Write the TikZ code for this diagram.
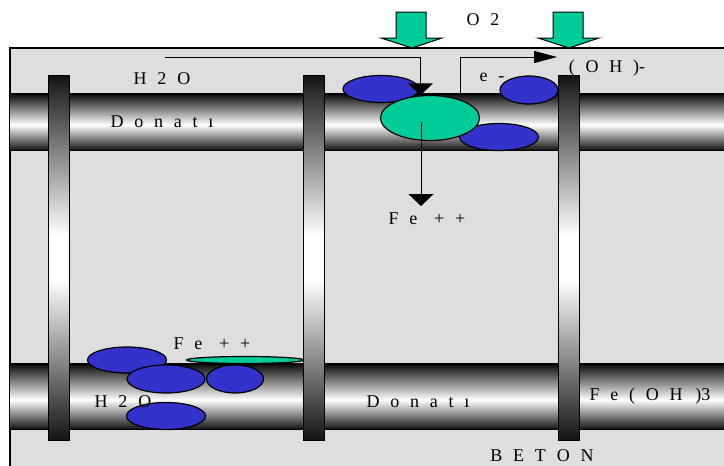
\documentclass[tikz,border=0pt]{standalone}
\usepackage{fontspec}
\setmainfont[WordSpace=2.4]{Liberation Serif}
\usepackage{tikz}
\usetikzlibrary{shapes, arrows.meta, positioning}

\definecolor{anodegreen}{RGB}{0,204,153}
\definecolor{rustblue}{RGB}{51,51,204}
\definecolor{betongray}{RGB}{222,222,222}

\begin{document}
\begin{tikzpicture}[x=1pt, y=-1pt, font=\fontsize{18}{20}\selectfont]

\tikzstyle{lbl} = [inner sep=0pt, text=black]
\tikzstyle{concrete} = [draw=black, line width=1.2pt, fill=betongray]
\tikzstyle{rebar} = [rectangle, anchor=north west, inner sep=0pt, minimum width=730pt]
\tikzstyle{stirrup} = [rectangle, anchor=north west, inner sep=0pt, draw=black, line width=1.2pt, minimum width=21pt, minimum height=365pt]
\tikzstyle{blob} = [ellipse, draw=black, line width=1.2pt, fill=rustblue, inner sep=0pt]
\tikzstyle{anode} = [ellipse, draw=black, line width=1.2pt, fill=anodegreen, inner sep=0pt]
\tikzstyle{feed} = [line width=1pt, -{Triangle[width=25pt, length=12pt]}]
\tikzstyle{earrow} = [line width=1pt, -{Triangle[width=12pt, length=23pt]}]
\tikzstyle{o2arrow} = [draw=black, line width=1pt, fill=anodegreen]

\useasboundingbox (0,0) rectangle (724,466);

% concrete block
\draw[concrete] (10,48) rectangle (740,480);

% bars, shaded strip by strip
\foreach \top/\h in {94/56, 364/65} {
  \foreach \i in {0,...,\numexpr\h-1\relax} {
    \pgfmathsetmacro\p{\i/\h}
    \pgfmathsetmacro\d{ifthenelse(\p<0.55, 95*(1-\p/0.55), 92*(\p-0.55)/0.45)}
    \fill[black!\d] (10,\top+\i) rectangle (740,\top+\i+1.3);
  }
}
\node (bartop)[rebar, minimum height=56pt] at (10,94) {};
\node (barlow)[rebar, minimum height=65pt] at (10,364) {};
\draw[line width=1.5pt] (bartop.north west) -- (bartop.north east) (bartop.south west) -- (bartop.south east);
\draw[line width=1.5pt] (barlow.north west) -- (barlow.north east) (barlow.south west) -- (barlow.south east);

% stirrups
\foreach \x/\n in {48/1, 303/2, 558/3} {
  \foreach \i in {0,...,182} {
    \pgfmathsetmacro\d{92*max(0, abs(1-\i/91)-0.12)/0.88}
    \fill[black!\d] (\x,75+2*\i) rectangle (\x+21,77.3+2*\i);
  }
  \node (stir\n)[stirrup] at (\x,75) {};
}

% upper corrosion cell
\node (rust1)[blob, minimum width=76pt, minimum height=27pt] at (381,89) {};
\node (rust2)[blob, minimum width=58pt, minimum height=28pt] at (529,90) {};
\node (rust3)[blob, minimum width=79pt, minimum height=27pt] at (499,137) {};
\node (anode)[anode, minimum width=99pt, minimum height=45pt] at (430,118) {};

% lower corrosion cell
\node (rust4)[blob, minimum width=79pt, minimum height=26pt] at (127,360) {};
\node (rust5)[blob, minimum width=78pt, minimum height=28pt] at (166,379) {};
\node (rust6)[blob, minimum width=57pt, minimum height=28pt] at (235,379) {};
\node (rust7)[blob, minimum width=79pt, minimum height=27pt] at (166,416) {};
\node (film)[anode, minimum width=117pt, minimum height=7pt] at (245,360) {};

% oxygen
\draw[o2arrow] (396,12) -- (426,12) -- (426,38) -- (442,38) -- (412,48) -- (381,38) -- (396,38) -- cycle;
\draw[o2arrow] (553,12) -- (583,12) -- (583,38) -- (599,38) -- (569,48) -- (538,38) -- (553,38) -- cycle;
\node (o2)[lbl] at (483,20) {O 2};

% labels
\node (h2otop)[lbl] at (162,79) {H 2 O};
\node (donatitop)[lbl] at (162,122) {D o n a t ı};
\node (elec)[lbl] at (492,77) {e -};
\node (oh)[lbl] at (607,68) {( O H )-};
\node (feup)[lbl] at (427,219) {F e\hspace{6pt} + +};
\node (felow)[lbl] at (212,344) {F e\hspace{6pt} + +};
\node (h2olow)[lbl] at (123,402) {H 2 O};
\node (donatilow)[lbl] at (418,402) {D o n a t ı};
\node (feoh)[lbl] at (650,396) {F e ( O H\hspace{2pt} )3};
\node (beton)[lbl] at (542,456) {B E T O N};

% arrows
\coordinate (h2oline) at (165,57);
\coordinate (estart) at (460,94);
\coordinate (etip) at (557,57);
\coordinate (fedrop) at (421,122);
\coordinate (fetip) at (421,206);

\draw[feed] (h2oline) -| (anode.113);
\draw[earrow] (estart) |- (etip);
\draw[feed] (fedrop) -- (fetip);

\end{tikzpicture}
\end{document}
